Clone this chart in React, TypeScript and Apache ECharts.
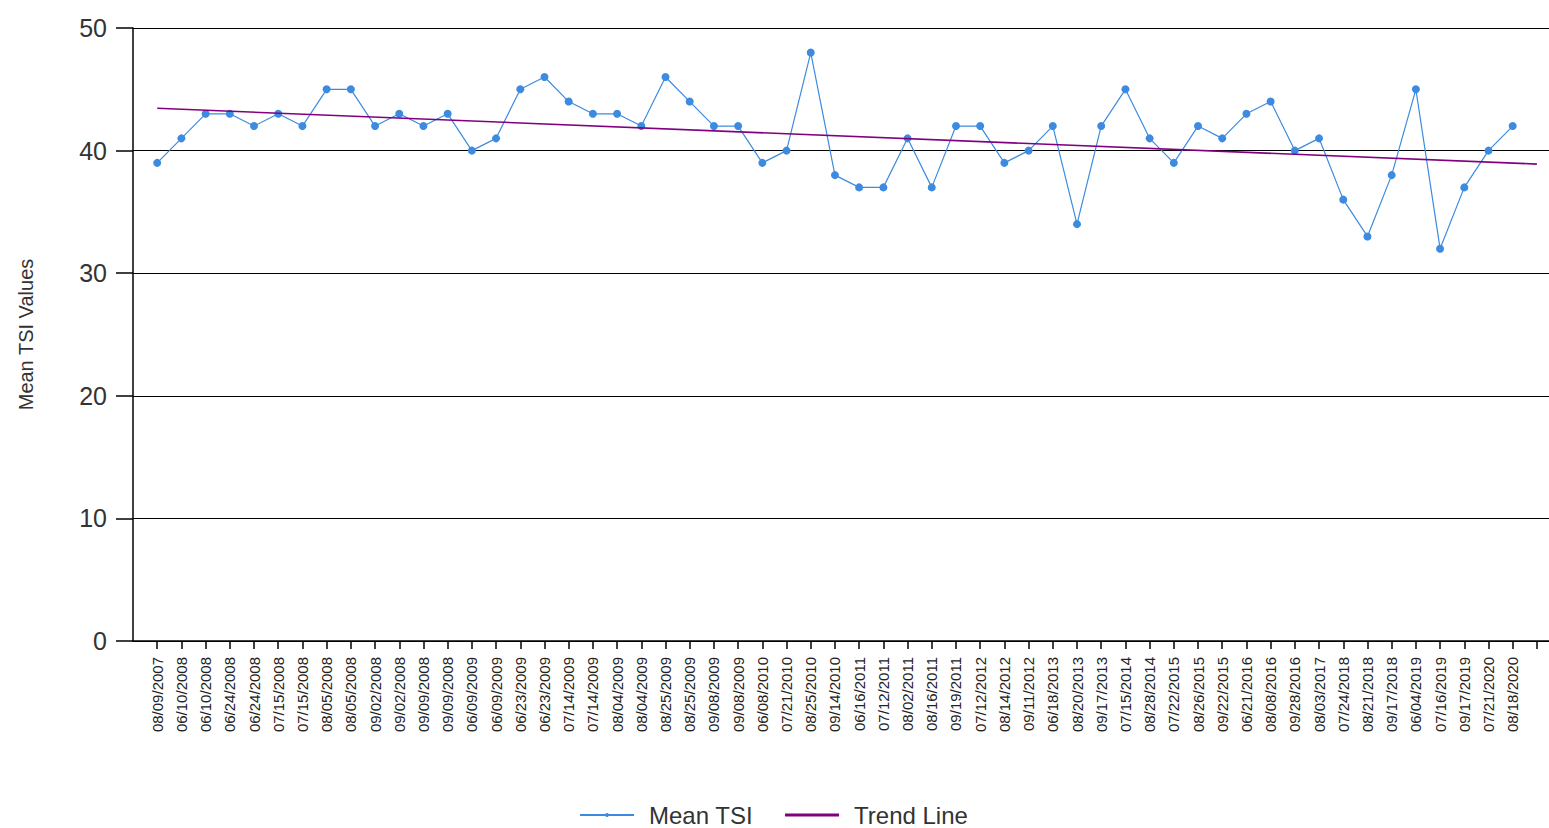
import React, { useEffect, useRef } from "react";
import * as echarts from "echarts";

// Sampling dates (one per observation, in order)
const sampleDates: string[] = [
  "08/09/2007", "06/10/2008", "06/10/2008", "06/24/2008", "06/24/2008",
  "07/15/2008", "07/15/2008", "08/05/2008", "08/05/2008", "09/02/2008",
  "09/02/2008", "09/09/2008", "09/09/2008", "06/09/2009", "06/09/2009",
  "06/23/2009", "06/23/2009", "07/14/2009", "07/14/2009", "08/04/2009",
  "08/04/2009", "08/25/2009", "08/25/2009", "09/08/2009", "09/08/2009",
  "06/08/2010", "07/21/2010", "08/25/2010", "09/14/2010", "06/16/2011",
  "07/12/2011", "08/02/2011", "08/16/2011", "09/19/2011", "07/12/2012",
  "08/14/2012", "09/11/2012", "06/18/2013", "08/20/2013", "09/17/2013",
  "07/15/2014", "08/28/2014", "07/22/2015", "08/26/2015", "09/22/2015",
  "06/21/2016", "08/08/2016", "09/28/2016", "08/03/2017", "07/24/2018",
  "08/21/2018", "09/17/2018", "06/04/2019", "07/16/2019", "09/17/2019",
  "07/21/2020", "08/18/2020",
];

// Mean TSI per sample
const meanTsi: number[] = [
  39, 41, 43, 43, 42, 43, 42, 45, 45, 42,
  43, 42, 43, 40, 41, 45, 46, 44, 43, 43,
  42, 46, 44, 42, 42, 39, 40, 48, 38, 37,
  37, 41, 37, 42, 42, 39, 40, 42, 34, 42,
  45, 41, 39, 42, 41, 43, 44, 40, 41, 36,
  33, 38, 45, 32, 37, 40, 42,
];

// Trend line end points: [position, value]
const trendStart: [number, number] = [1, 43.45];
const trendEnd: [number, number] = [58, 38.9];

const yTicks = { min: 0, max: 50, interval: 10 };

const SANS = "Liberation Sans, Arial, sans-serif";

export default function App() {
  const ref = useRef<HTMLDivElement>(null);

  useEffect(() => {
    if (!ref.current) return;
    const chart = echarts.init(ref.current, undefined, { renderer: "svg" });
    const tsiPoints = meanTsi.map((v, i) => [i + 1, v]);

    chart.setOption({
      animation: false,
      backgroundColor: "#ffffff",
      grid: {
        left: 133,
        right: 0,
        top: 28,
        bottom: 187,
        containLabel: false,
        outerBoundsMode: "none",
      },
      legend: {
        bottom: -4,
        left: 574,
        itemWidth: 54,
        itemHeight: 5,
        itemGap: 32,
        textStyle: {
          fontFamily: SANS,
          fontSize: 24,
          color: "#333",
          padding: [0, 0, 0, 10],
        },
        data: [
          { name: "Mean TSI" },
          {
            name: "Trend Line",
            icon: "path://M0,0 L54,0 L54,3 L0,3 Z",
            itemStyle: { color: "#800080" },
          },
        ],
      },
      xAxis: {
        type: "value",
        min: 0,
        max: 58.5,
        interval: 1,
        axisLine: { show: true, lineStyle: { color: "#000", width: 1.5 } },
        axisTick: { show: true, length: 8, lineStyle: { color: "#000", width: 1.5 } },
        splitLine: { show: false },
        axisLabel: {
          rotate: 90,
          margin: 16,
          fontSize: 15,
          fontFamily: SANS,
          color: "#222",
          showMaxLabel: false,
          showMinLabel: false,
          formatter: (v: number) => sampleDates[v - 1] ?? "",
        },
      },
      yAxis: {
        type: "value",
        min: yTicks.min,
        max: yTicks.max,
        interval: yTicks.interval,
        name: "Mean TSI Values",
        nameLocation: "middle",
        nameGap: 97,
        nameTextStyle: {
          fontFamily: SANS,
          fontSize: 20,
          color: "#333",
        },
        axisLine: { show: true, lineStyle: { color: "#000", width: 1.5 } },
        axisTick: { show: true, length: 17, lineStyle: { color: "#000", width: 1.5 } },
        splitLine: { show: true, lineStyle: { color: "#000", width: 1.2 } },
        axisLabel: {
          margin: 26,
          fontFamily: SANS,
          fontSize: 25,
          color: "#333",
        },
      },
      series: [
        {
          name: "Mean TSI",
          type: "line",
          data: tsiPoints,
          color: "#3d8be0",
          symbol: "circle",
          symbolSize: 8,
          lineStyle: { width: 1.2, color: "#3d8be0" },
          itemStyle: { color: "#3d8be0" },
          z: 3,
        },
        {
          name: "Trend Line",
          type: "line",
          data: [trendStart, trendEnd],
          color: "#800080",
          symbol: "none",
          lineStyle: { width: 1.6, color: "#800080" },
          z: 4,
        },
      ],
    });

    return () => chart.dispose();
  }, []);

  return (
    <div
      ref={ref}
      style={{ position: "absolute", left: 0, top: 0, width: 1549, height: 828 }}
    />
  );
}
